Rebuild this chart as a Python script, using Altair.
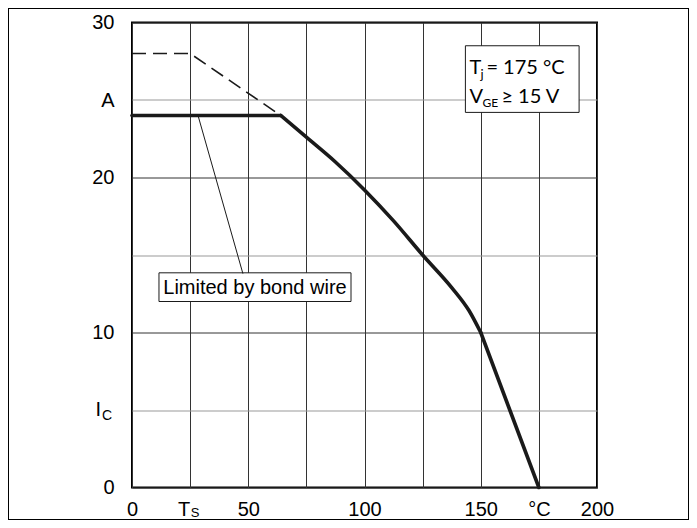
import altair as alt
import pandas as pd

# ---- axis ticks and labels ----
x_ticks = [0, 25, 50, 75, 100, 125, 150, 175, 200]
x_tick_labels = ["0", "", "50", "", "100", "", "150", "°C", "200"]
y_ticks = [0, 5, 10, 15, 20, 25, 30]
y_tick_labels = ["0", "", "10", "", "20", "A", "30"]

# ---- series ----
flat_t = [0, 64]
flat_i = [24.0, 24.0]
bend_t = [64, 75, 87.5, 100, 112.5, 125, 137.5, 145, 150]
bend_i = [24.0, 22.6, 21.0, 19.2, 17.2, 15.0, 12.9, 11.4, 10.0]
tail_t = [150, 162.5, 175]
tail_i = [10.0, 5.0, 0.0]
chip_t = [0, 25, 64]
chip_i = [28.0, 28.0, 24.0]
leader_t = [28.4, 47.7]
leader_i = [24.0, 13.8]

# ---- annotation boxes ----
note_box_t = [143.4, 192.3]
note_box_i = [24.2, 28.5]
wire_box_t = [11.6, 94.2]
wire_box_i = [12.0, 13.85]
wire_text = "Limited by bond wire"


def label_expr(values, labels):
    expr = "''"
    for v, l in reversed(list(zip(values, labels))):
        expr = f"datum.value == {v} ? '{l}' : ({expr})"
    return expr


xs = alt.Scale(domain=[0, 200], nice=False, zero=False)
ys = alt.Scale(domain=[0, 30], nice=False, zero=False)

x_axis = alt.Axis(values=x_ticks, labelExpr=label_expr(x_ticks, x_tick_labels),
                  grid=True, gridColor="#333333", gridWidth=1, domain=False,
                  ticks=False, labelFont="Liberation Sans", labelFontSize=20,
                  labelColor="black", labelPadding=12, title=None,
                  labelFlush=False, labelOverlap=False)
y_axis = alt.Axis(values=y_ticks, labelExpr=label_expr(y_ticks, y_tick_labels),
                  grid=True,
                  gridColor={"condition": {"test": "datum.value % 10 == 5", "value": "#999999"},
                             "value": "#333333"},
                  gridWidth=1, domain=False, ticks=False,
                  labelFont="Liberation Sans", labelFontSize=20, labelColor="black",
                  labelPadding=18, title=None, labelFlush=False, labelOverlap=False)


def X(f="t"):
    return alt.X(f"{f}:Q", scale=xs, axis=x_axis)


def Y(f="i"):
    return alt.Y(f"{f}:Q", scale=ys, axis=y_axis)


straight_df = pd.DataFrame({"t": flat_t + tail_t, "i": flat_i + tail_i,
                            "seg": ["flat"] * len(flat_t) + ["tail"] * len(tail_t)})
bend_df = pd.DataFrame({"t": bend_t, "i": bend_i})
chip_df = pd.DataFrame({"t": chip_t, "i": chip_i})
leader_df = pd.DataFrame({"t": leader_t, "i": leader_i})
boxes_df = pd.DataFrame({"t": [note_box_t[0], wire_box_t[0]], "t2": [note_box_t[1], wire_box_t[1]],
                         "i": [note_box_i[0], wire_box_i[0]], "i2": [note_box_i[1], wire_box_i[1]]})

straight = alt.Chart(straight_df).mark_line(color="#1a1a1a", strokeWidth=3.6,
                                            strokeCap="round").encode(
    x=X(), y=Y(), detail="seg:N", order="t:Q")

bend = alt.Chart(bend_df).mark_line(color="#1a1a1a", strokeWidth=3.6, strokeCap="round",
                                    interpolate="monotone").encode(x=X(), y=Y(), order="t:Q")

chip_line = alt.Chart(chip_df).mark_line(color="#1a1a1a", strokeWidth=1.6,
                                         strokeDash=[14, 7]).encode(x=X(), y=Y(), order="t:Q")

leader = alt.Chart(leader_df).mark_line(color="#1a1a1a", strokeWidth=1).encode(x=X(), y=Y())

boxes = alt.Chart(boxes_df).mark_rect(fill="white", stroke="#1a1a1a", strokeWidth=1).encode(
    x=X(), x2="t2:Q", y=Y(), y2="i2:Q")

wire_label = alt.Chart(pd.DataFrame({"t": [sum(wire_box_t) / 2], "i": [sum(wire_box_i) / 2],
                                     "txt": [wire_text]})).mark_text(
    font="Liberation Sans", fontSize=20, color="black", align="center", baseline="middle", dy=1
).encode(x=X(), y=Y(), text="txt:N")

anchor_note = pd.DataFrame({"t": [note_box_t[0]], "i": [note_box_i[1]]})


def note_piece(txt, dx, dy, size):
    return alt.Chart(anchor_note).mark_text(
        text=txt, font="Lato", fontSize=size, color="black", align="left",
        baseline="alphabetic", dx=dx, dy=dy).encode(x=X(), y=Y())


note_layers = [
    note_piece("T", 4, 28, 20),
    note_piece("j", 15, 33, 13),
    note_piece("= 175 °C", 21, 28, 20),
    note_piece("V", 4, 57, 20),
    note_piece("GE", 17, 61, 12),
    note_piece("≥ 15 V", 36, 57, 20),
]

ts_anchor = pd.DataFrame({"t": [x_ticks[1]], "i": [y_ticks[0]]})
ic_anchor = pd.DataFrame({"t": [x_ticks[0]], "i": [y_ticks[1]]})


def axis_piece(df, txt, align, dx, dy, size):
    return alt.Chart(df).mark_text(text=txt, font="Liberation Sans", fontSize=size,
                                   color="black", align=align, baseline="middle",
                                   dx=dx, dy=dy).encode(x=X(), y=Y())


axis_pieces = [
    axis_piece(ts_anchor, "T", "center", -6, 22, 20),
    axis_piece(ts_anchor, "S", "center", 5, 25, 13),
    axis_piece(ic_anchor, "I", "right", -31, 0, 20),
    axis_piece(ic_anchor, "C", "left", -30, 6, 14),
]

frame = alt.Chart(bend_df).mark_rect(fillOpacity=0, stroke="black", strokeWidth=1).encode(
    x=alt.value(-123.5), x2=alt.value(556.5), y=alt.value(-14), y2=alt.value(497))

chart = alt.layer(
    boxes, chip_line, straight, bend, leader, wire_label, *note_layers, *axis_pieces, frame
).properties(
    width=465, height=465,
    padding={"left": 124, "top": 14.5, "right": 92, "bottom": 32.5},
    autosize=alt.AutoSizeParams(type="none"),
    background="white",
).configure_view(stroke="black", strokeWidth=2)

chart.save("out.html", embed_options={"renderer": "svg", "actions": False})
